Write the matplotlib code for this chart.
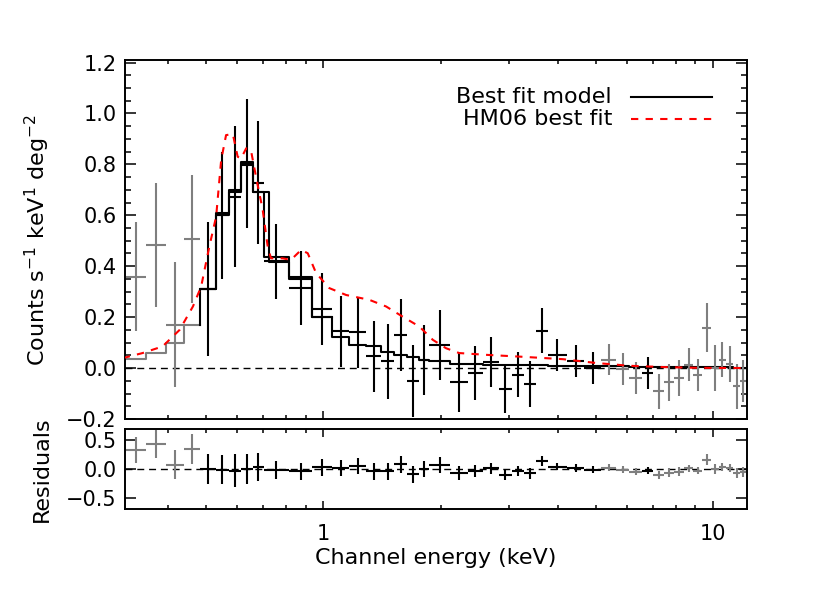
import matplotlib.pyplot as plt
import numpy as np
from matplotlib.ticker import MultipleLocator, FixedLocator, FuncFormatter, NullFormatter, NullLocator

plt.rcParams['font.family'] = ['DejaVu Sans']
plt.rcParams['mathtext.default'] = 'regular'

# channel bin edges (keV)
bin_edges = [0.312, 0.351, 0.396, 0.440, 0.483, 0.529, 0.572, 0.615, 0.659, 0.703,
             0.818, 0.935, 1.054, 1.166, 1.287, 1.406, 1.521, 1.636, 1.763, 1.870,
             2.113, 2.344, 2.562, 2.816, 3.047, 3.277, 3.518, 3.760, 4.206, 4.670,
             5.153, 5.630, 6.088, 6.566, 7.019, 7.487, 7.943, 8.425, 8.886, 9.355,
             9.865, 10.32, 10.78, 11.25, 11.71, 12.13]

# counts s^-1 keV^-1 deg^-2
counts = [0.359, 0.483, 0.170, 0.507, 0.310, 0.600, 0.673, 0.804, 0.728, 0.420,
          0.316, 0.231, 0.144, 0.140, 0.046, 0.026, 0.129, -0.050, 0.033, 0.091,
          -0.056, -0.020, 0.024, -0.082, -0.026, -0.062, 0.147, 0.052, 0.026, 0.000,
          0.033, -0.004, -0.039, -0.020, -0.092, -0.056, -0.039, 0.013, -0.026, 0.159,
          0.000, 0.033, 0.016, -0.072, -0.052]
count_err = [0.215, 0.242, 0.245, 0.250, 0.262, 0.250, 0.278, 0.254, 0.242, 0.147,
             0.145, 0.141, 0.139, 0.140, 0.140, 0.148, 0.142, 0.141, 0.137, 0.137,
             0.117, 0.106, 0.098, 0.093, 0.088, 0.090, 0.088, 0.063, 0.063, 0.062,
             0.061, 0.064, 0.063, 0.063, 0.069, 0.072, 0.072, 0.065, 0.063, 0.095,
             0.090, 0.070, 0.072, 0.087, 0.082]
# 1 = channel not used in fit (drawn grey)
ignored = [1, 1, 1, 1, 0, 0, 0, 0, 0, 0,
           0, 0, 0, 0, 0, 0, 0, 0, 0, 0,
           0, 0, 0, 0, 0, 0, 0, 0, 0, 0,
           1, 1, 1, 0, 1, 1, 1, 1, 1, 1,
           1, 1, 1, 1, 1]

# best fit model (folded, per channel)
model = [0.037, 0.061, 0.100, 0.170, 0.310, 0.610, 0.699, 0.810, 0.693, 0.438,
         0.357, 0.202, 0.122, 0.091, 0.085, 0.065, 0.052, 0.042, 0.033, 0.026,
         0.017, 0.014, 0.013, 0.012, 0.012, 0.011, 0.011, 0.010, 0.010, 0.009,
         0.008, 0.007, 0.006, 0.006, 0.005, 0.005, 0.004, 0.004, 0.004, 0.003,
         0.003, 0.003, 0.003, 0.002, 0.002]
# second instrument model around the peak
model2_edges = [0.483, 0.529, 0.572, 0.615, 0.659, 0.724, 0.818, 0.935, 1.054]
model2 = [0.310, 0.600, 0.690, 0.797, 0.690, 0.418, 0.350, 0.200]

# HM06 best fit curve
hm06_energy = [0.306, 0.344, 0.387, 0.428, 0.463, 0.486, 0.510, 0.531, 0.547, 0.563,
               0.586, 0.603, 0.615, 0.634, 0.652, 0.672, 0.699, 0.720, 0.734, 0.786,
               0.826, 0.877, 0.912, 0.958, 1.036, 1.144, 1.312, 1.448, 1.597, 1.763,
               1.908, 2.063, 2.229, 2.612, 3.182, 4.11, 5.0, 6.09, 7.42, 9.01, 12.2]
hm06 = [0.039, 0.059, 0.085, 0.150, 0.242, 0.320, 0.477, 0.595, 0.817, 0.915,
        0.919, 0.830, 0.823, 0.863, 0.856, 0.751, 0.621, 0.477, 0.431, 0.431,
        0.425, 0.464, 0.451, 0.373, 0.314, 0.287, 0.268, 0.242, 0.202, 0.163,
        0.111, 0.078, 0.059, 0.052, 0.045, 0.035, 0.020, 0.009, 0.004, 0.001, 0.0]

GREY = '#7f7f7f'

edges = np.array(bin_edges)
lo, hi = edges[:-1], edges[1:]
centre = np.sqrt(lo * hi)
y = np.array(counts)
yerr = np.array(count_err)
mod = np.array(model)
resid = y - mod
grey = np.array(ignored) == 1

fig = plt.figure(figsize=(8.3, 6), dpi=100)
ax = fig.add_axes([0.1506, 0.3017, 0.7494, 0.5983])
axr = fig.add_axes([0.1506, 0.1517, 0.7494, 0.1333], sharex=ax)

for a in (ax, axr):
    a.axhline(0, color='black', lw=1.0, ls=(0, (5, 3.5)), zorder=1)

# model steps: grey over the low-energy ignored channels, black after
ax.step(edges[:5], np.append(mod[:4], mod[3]), where='post', color=GREY, lw=1.5)
ax.step(np.concatenate([[edges[4]], edges[4:]]),
        np.concatenate([[mod[3]], mod[4:], [mod[-1]]]), where='post', color='black', lw=1.5)
ax.step(model2_edges, model2 + [model2[-1]], where='post', color='black', lw=1.5)

ax.plot(hm06_energy, hm06, color='red', lw=1.5, ls=(0, (3.5, 3.5)), zorder=4)

for mask, c in ((grey, GREY), (~grey, 'black')):
    xe = [centre[mask] - lo[mask], hi[mask] - centre[mask]]
    ax.errorbar(centre[mask], y[mask], xerr=xe, yerr=yerr[mask], fmt='none',
                ecolor=c, elinewidth=1.5, capsize=0, zorder=3)
    axr.errorbar(centre[mask], resid[mask], xerr=xe, yerr=yerr[mask], fmt='none',
                 ecolor=c, elinewidth=1.5, capsize=0, zorder=3)

# legend
ax.text(0.783, 0.897, 'Best fit model', transform=ax.transAxes, ha='right', va='center', fontsize=16)
ax.plot([0.813, 0.944], [0.897, 0.897], transform=ax.transAxes, color='black', lw=1.5)
ax.text(0.783, 0.836, 'HM06 best fit', transform=ax.transAxes, ha='right', va='center', fontsize=16)
ax.plot([0.813, 0.944], [0.836, 0.836], transform=ax.transAxes, color='red', lw=1.5,
        ls=(0, (3.5, 3.5)))

ax.set_xscale('log')
ax.set_xlim(0.31, 12.2)
ax.set_ylim(-0.2, 1.21)
axr.set_ylim(-0.68, 0.68)


def fmt1(v, p):
    if abs(v) < 1e-9:
        v = 0.0
    return f'{v:.1f}'.replace('-', '\u2212')


ax.yaxis.set_major_locator(MultipleLocator(0.2))
ax.yaxis.set_minor_locator(MultipleLocator(0.05))
ax.yaxis.set_major_formatter(FuncFormatter(fmt1))
axr.yaxis.set_major_locator(FixedLocator([-0.5, 0.0, 0.5]))
axr.yaxis.set_minor_locator(NullLocator())
axr.yaxis.set_major_formatter(FuncFormatter(fmt1))
axr.xaxis.set_major_formatter(FuncFormatter(lambda v, p: f'{v:g}'))
axr.xaxis.set_minor_formatter(NullFormatter())

for a in (ax, axr):
    a.tick_params(which='both', direction='in', top=True, right=True, width=1.1,
                  labelsize=15, color='black')
    a.tick_params(axis='y', which='major', length=8, pad=6)
    a.tick_params(axis='y', which='minor', length=4)
    a.tick_params(axis='x', which='major', length=6, pad=11)
    a.tick_params(axis='x', which='minor', length=3)
    for s in a.spines.values():
        s.set_linewidth(1.4)
ax.tick_params(axis='x', which='both', labelbottom=False)

ax.set_ylabel('Counts s$^{-1}$ keV$^{1}$ deg$^{-2}$', fontsize=16)
ax.yaxis.set_label_coords(-0.117, 0.5)
axr.set_ylabel('Residuals', fontsize=16)
axr.yaxis.set_label_coords(-0.117, 0.5)
axr.set_xlabel('Channel energy (keV)', fontsize=16, labelpad=3)

fig.savefig('out.png', dpi=100)
